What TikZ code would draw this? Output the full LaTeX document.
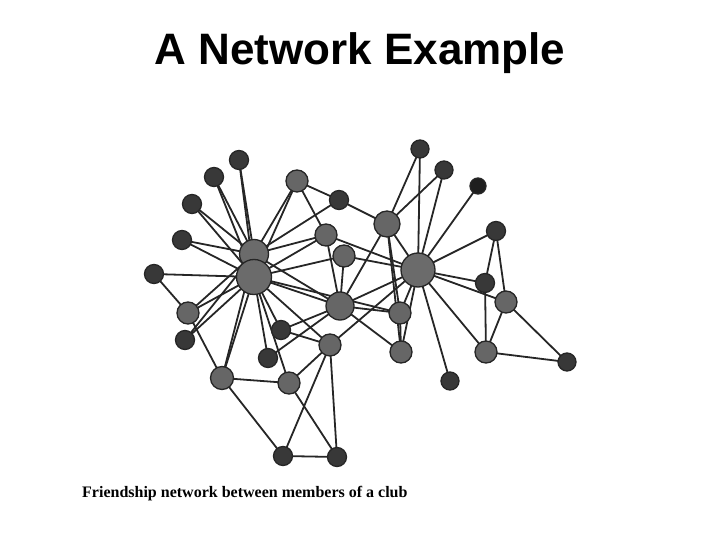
\documentclass[tikz,border=0pt]{standalone}
\usepackage{fontspec}
\setmainfont{Liberation Serif}
\newfontfamily\titlefont{Liberation Sans}
\begin{document}
\begin{tikzpicture}[x=1pt,y=-1pt,
  edge/.style={draw=black!85,line width=1.8pt},
  vert/.style={circle,draw=black!85,line width=1.3pt,inner sep=0pt},
  sm/.style={vert,fill=black!78,minimum size=19pt},
  md/.style={vert,fill=black!60,minimum size=22pt},
  hub/.style={vert,fill=black!58}]
\useasboundingbox (0,0) rectangle (720,540);
\node[font=\titlefont\bfseries\fontsize{44}{50}\selectfont] (title) at (360,53) {A Network Example};
\node[anchor=base west,font=\bfseries\fontsize{16}{19}\selectfont,inner sep=0pt] (cap) at (82,497) {Friendship network between members of a club};
% coordinates
\coordinate (p1) at (239,160); \coordinate (p2) at (214,177); \coordinate (p3) at (192,204);
\coordinate (p4) at (182,240); \coordinate (p5) at (154,274); \coordinate (p6) at (188,313);
\coordinate (p7) at (185,340); \coordinate (p8) at (254,254); \coordinate (p9) at (254,277);
\coordinate (p10) at (297,181); \coordinate (p11) at (339,200); \coordinate (p12) at (326,235);
\coordinate (p13) at (344,256); \coordinate (p14) at (387,224); \coordinate (p15) at (420,149);
\coordinate (p16) at (444,170); \coordinate (p17) at (478,186); \coordinate (p18) at (496,231);
\coordinate (p19) at (418,270); \coordinate (p20) at (485,283); \coordinate (p21) at (506,302);
\coordinate (p22) at (340,306); \coordinate (p23) at (400,313); \coordinate (p24) at (281,330);
\coordinate (p25) at (268,358); \coordinate (p26) at (330,345); \coordinate (p27) at (222,378);
\coordinate (p28) at (289,383); \coordinate (p29) at (401,352); \coordinate (p30) at (486,352);
\coordinate (p31) at (567,362); \coordinate (p32) at (450,381); \coordinate (p33) at (283,456);
\coordinate (p34) at (337,457);
% edges
\foreach \a/\b in {1/8,1/9,2/8,2/9,3/8,3/9,4/8,4/9,5/9,5/6,6/8,6/9,6/27,7/8,7/9,
  10/8,10/9,10/11,10/12,11/8,11/14,12/8,12/9,12/19,12/22,13/9,13/19,13/22,
  9/22,9/24,9/25,9/26,9/28,8/27,9/27,27/28,27/33,28/34,28/26,26/33,26/34,33/34,
  24/22,24/26,25/22,22/23,22/29,22/19,22/14,26/19,23/29,23/19,23/14,14/29,29/19,
  14/15,14/16,14/19,15/19,16/19,17/19,18/19,18/20,18/21,19/20,19/21,19/30,19/32,
  20/30,21/30,21/31,30/31,8/22,9/23}
  \draw[edge] (p\a) -- (p\b);
% nodes
\node[sm] (n1) at (p1) {}; \node[sm] (n2) at (p2) {}; \node[sm] (n3) at (p3) {};
\node[sm] (n4) at (p4) {}; \node[sm] (n5) at (p5) {}; \node[md] (n6) at (p6) {};
\node[sm] (n7) at (p7) {}; \node[hub,minimum size=29pt] (n8) at (p8) {};
\node[hub,minimum size=35pt] (n9) at (p9) {};
\node[md] (n10) at (p10) {}; \node[sm] (n11) at (p11) {}; \node[md] (n12) at (p12) {};
\node[md] (n13) at (p13) {}; \node[md,minimum size=26pt] (n14) at (p14) {};
\node[sm,minimum size=18pt] (n15) at (p15) {}; \node[sm,minimum size=18pt] (n16) at (p16) {};
\node[sm,minimum size=16pt,fill=black!88] (n17) at (p17) {}; \node[sm] (n18) at (p18) {};
\node[hub,minimum size=34pt] (n19) at (p19) {};
\node[sm] (n20) at (p20) {}; \node[md] (n21) at (p21) {};
\node[md,minimum size=28pt] (n22) at (p22) {}; \node[md] (n23) at (p23) {};
\node[sm] (n24) at (p24) {}; \node[sm] (n25) at (p25) {}; \node[md] (n26) at (p26) {};
\node[md,minimum size=23pt] (n27) at (p27) {}; \node[md] (n28) at (p28) {};
\node[md] (n29) at (p29) {}; \node[md] (n30) at (p30) {};
\node[sm,minimum size=18pt] (n31) at (p31) {}; \node[sm,minimum size=18pt] (n32) at (p32) {};
\node[sm] (n33) at (p33) {}; \node[sm] (n34) at (p34) {};
\end{tikzpicture}
\end{document}
